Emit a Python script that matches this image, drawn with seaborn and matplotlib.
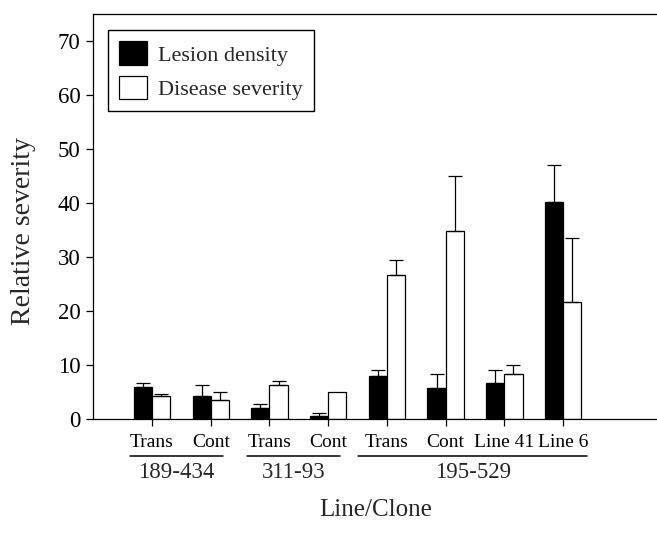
import numpy as np
import pandas as pd
import matplotlib
matplotlib.use("Agg")
import matplotlib.pyplot as plt
import matplotlib.transforms as mtransforms
import seaborn as sns

# Mean values and upper error (top of the error bar) per line/clone
conditions = ["Trans 189-434", "Cont 189-434", "Trans 311-93", "Cont 311-93",
              "Trans 195-529", "Cont 195-529", "Line 41", "Line 6"]
tick_labels = ["Trans", "Cont", "Trans", "Cont", "Trans", "Cont", "Line 41", "Line 6"]
lesion_density = [6.0, 4.3, 2.0, 0.55, 8.0, 5.8, 6.7, 40.2]
lesion_err = [0.6, 2.0, 0.7, 0.5, 1.05, 2.5, 2.35, 6.9]
disease_severity = [4.3, 3.5, 6.3, 5.0, 26.6, 34.9, 8.3, 21.6]
disease_err = [0.3, 1.5, 0.8, 0.0, 2.8, 10.1, 1.7, 12.0]
groups = ["189-434", "311-93", "195-529"]
group_members = [(0, 1), (2, 3), (4, 7)]
series = ["Lesion density", "Disease severity"]

sns.set_theme(style="ticks")
plt.rcParams["font.family"] = ["Liberation Serif", "DejaVu Serif"]
plt.rcParams["axes.edgecolor"] = "black"
plt.rcParams["xtick.color"] = "black"
plt.rcParams["ytick.color"] = "black"

df = pd.DataFrame({
    "condition": conditions * 2,
    "measure": [series[0]] * len(conditions) + [series[1]] * len(conditions),
    "value": lesion_density + disease_severity,
})

fig = plt.figure(figsize=(6.57, 5.43), dpi=100)
ax = fig.add_axes([0.1416, 0.2284, 0.8584, 0.7458])

sns.barplot(data=df, x="condition", y="value", hue="measure", order=conditions,
            hue_order=series, palette=["black", "white"], edgecolor="black",
            linewidth=0.9, width=0.62, errorbar=None, ax=ax, saturation=1)

# one-sided (upper) error bars at each bar's centre
n = len(conditions)
errs = [lesion_err, disease_err]
bar_sets = list(ax.containers)[:2]
for k, cont in enumerate(bar_sets):
    for i, bar in enumerate(cont):
        e = errs[k][i]
        if e <= 0:
            continue
        xc = bar.get_x() + bar.get_width() / 2
        h = bar.get_height()
        ax.errorbar([xc], [h], yerr=[[0], [e]], fmt="none", ecolor="black",
                    elinewidth=0.9, capsize=5, capthick=0.9)

ax.set_ylim(0, 75)
ax.set_xlim(-1.005, 8.6)
ax.set_yticks(np.arange(0, 71, 10))
ax.set_xticks(range(n))
ax.set_xticklabels(tick_labels, fontsize=14)
# shift "Line 41" slightly left so it clears "Line 6"
lbls = ax.get_xticklabels()
lbls[-2].set_transform(lbls[-2].get_transform() +
                       mtransforms.ScaledTranslation(-6 / 100, 0, fig.dpi_scale_trans))
ax.tick_params(axis="y", labelsize=16.5, length=5, width=0.9, direction="out", pad=4)
ax.tick_params(axis="x", length=5, width=0.9, direction="out", pad=6)
for s in ["left", "bottom", "top"]:
    ax.spines[s].set_linewidth(0.9)
ax.spines["right"].set_visible(False)

ax.set_xlabel("")
ax.set_ylabel("Relative severity", fontsize=20)
ax.yaxis.label.set_va("center")
ax.yaxis.label.set_ha("center")
ax.yaxis.set_label_coords(-0.124, 0.464)
fig.text(0.572, 0.061, "Line/Clone", fontsize=18, ha="center", va="center")

# group underlines and clone names below the tick labels
trans = ax.get_xaxis_transform()
pads = [(-0.38, 0.21), (-0.38, 0.2), (-0.49, 0.41)]
for name, (a, b), (pl, pr) in zip(groups, group_members, pads):
    x0, x1 = a + pl, b + pr
    ax.plot([x0, x1], [-0.0914, -0.0914], color="black", lw=1.1,
            transform=trans, clip_on=False)
    ax.text((x0 + x1) / 2, -0.131, name, transform=trans, ha="center",
            va="center", fontsize=16.5)

leg = ax.legend(loc="upper left", bbox_to_anchor=(0.0266, 0.96), borderaxespad=0,
                fontsize=16, frameon=True, fancybox=False, edgecolor="black",
                framealpha=1, handlelength=1.25, handleheight=1.25,
                handletextpad=0.5, borderpad=0.5, labelspacing=0.45, title=None)
leg.get_frame().set_linewidth(1.0)

fig.savefig("out.png", dpi=100, facecolor="white")
